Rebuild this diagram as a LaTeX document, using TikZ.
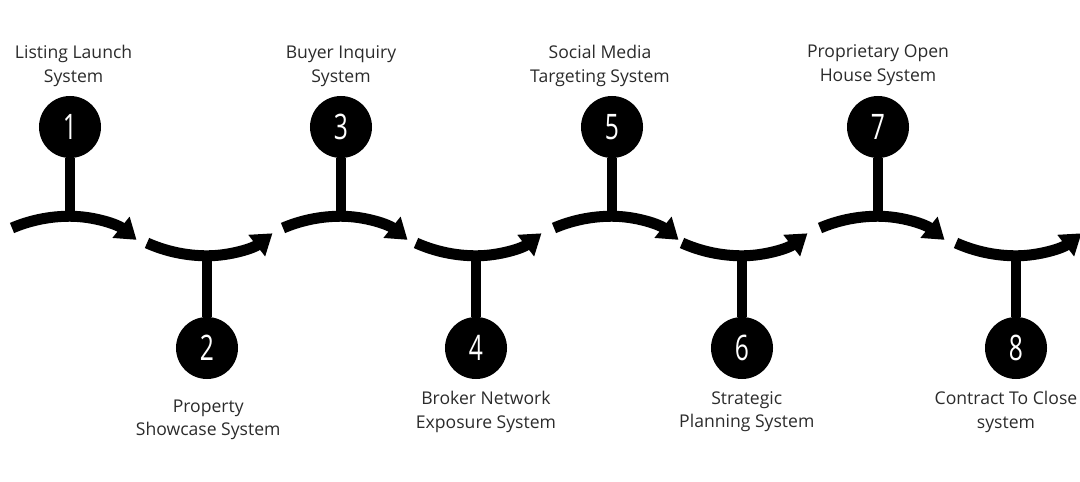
\documentclass[tikz,border=0pt]{standalone}
\usepackage{fontspec}
\setmainfont{Open Sans}
\newfontfamily\numfont[FakeStretch=0.7]{Open Sans}
\usepackage{tikz}
\usetikzlibrary{arrows.meta,positioning}
\definecolor{labelgray}{HTML}{2B2B2B}

\begin{document}
\begin{tikzpicture}[
    x=0.025cm, y=0.025cm,
    font=\fontsize{12.5}{16.5}\selectfont,
    stagedot/.style={circle, fill=black, inner sep=0pt, minimum size=1.55cm, text=white, font=\numfont\fontsize{25}{25}\selectfont},
    stagelabel/.style={align=center, inner sep=0pt, text=labelgray},
    stem/.style={line width=2.5mm},
    curve/.style={line width=2.75mm, -{Triangle[length=5mm, width=6.5mm]}}
]
\useasboundingbox (0,0) rectangle (1080,481);

\node[stagedot] (n1) at (70,354) {1};
\node[stagedot] (n2) at (207,133) {2};
\node[stagedot] (n3) at (341,354) {3};
\node[stagedot] (n4) at (476,133) {4};
\node[stagedot] (n5) at (612,354) {5};
\node[stagedot] (n6) at (742,133) {6};
\node[stagedot] (n7) at (878,354) {7};
\node[stagedot] (n8) at (1016,133) {8};

\node[stagelabel, above=2.3mm of n1, xshift=0.9mm] (l1) {Listing Launch\\System};
\node[stagelabel, below=5mm of n2, xshift=0.3mm] (l2) {Property\\Showcase System};
\node[stagelabel, above=2.3mm of n3] (l3) {Buyer Inquiry\\System};
\node[stagelabel, below=3mm of n4, xshift=2.5mm] (l4) {Broker Network\\Exposure System};
\node[stagelabel, above=2.3mm of n5, xshift=-3mm] (l5) {Social Media\\Targeting System};
\node[stagelabel, below=3mm of n6, xshift=1.2mm] (l6) {Strategic\\Planning System};
\node[stagelabel, above=2.5mm of n7] (l7) {Proprietary Open\\House System};
\node[stagelabel, below=3mm of n8, xshift=-2.5mm] (l8) {Contract To Close\\system};

% junctions where the stems meet the curves
\coordinate (j1) at (70,265);
\coordinate (j2) at (207,225);
\coordinate (j3) at (341,265);
\coordinate (j4) at (476,225);
\coordinate (j5) at (612,265);
\coordinate (j6) at (742,225);
\coordinate (j7) at (878,265);
\coordinate (j8) at (1016,225);

\draw[stem] (n1) -- (j1);
\draw[stem] (n2) -- (j2);
\draw[stem] (n3) -- (j3);
\draw[stem] (n4) -- (j4);
\draw[stem] (n5) -- (j5);
\draw[stem] (n6) -- (j6);
\draw[stem] (n7) -- (j7);
\draw[stem] (n8) -- (j8);

\draw[curve] ([shift={(-58,-12)}]j1) arc[start angle=113, end angle=90, radius=148] arc[start angle=90, end angle=51, radius=106];
\draw[curve] ([shift={(-60,13)}]j2) arc[start angle=246, end angle=270, radius=148] arc[start angle=270, end angle=308, radius=106];
\draw[curve] ([shift={(-58,-12)}]j3) arc[start angle=113, end angle=90, radius=148] arc[start angle=90, end angle=51, radius=106];
\draw[curve] ([shift={(-60,13)}]j4) arc[start angle=246, end angle=270, radius=148] arc[start angle=270, end angle=308, radius=106];
\draw[curve] ([shift={(-58,-12)}]j5) arc[start angle=113, end angle=90, radius=148] arc[start angle=90, end angle=51, radius=106];
\draw[curve] ([shift={(-60,13)}]j6) arc[start angle=246, end angle=270, radius=148] arc[start angle=270, end angle=308, radius=106];
\draw[curve] ([shift={(-58,-12)}]j7) arc[start angle=113, end angle=90, radius=148] arc[start angle=90, end angle=51, radius=106];
\draw[curve] ([shift={(-60,13)}]j8) arc[start angle=246, end angle=270, radius=148] arc[start angle=270, end angle=308, radius=106];
\end{tikzpicture}
\end{document}
